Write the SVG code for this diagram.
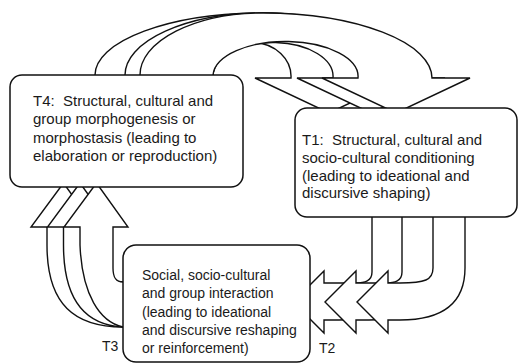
<svg xmlns="http://www.w3.org/2000/svg" width="520" height="364" viewBox="0 0 520 364">
<style>
.ar{fill:#fff;stroke:#111;stroke-width:1.4;stroke-linejoin:miter}
.bx{fill:#fff;stroke:#111;stroke-width:1.5}
.t{font-family:"Liberation Sans",Arial,sans-serif;fill:#1a1a1a}
.big{font-size:15px}
.sm{font-size:14px}
</style>
<rect width="520" height="364" fill="#fff"/>
<g id="connectors">
  <path class="ar" d="M95,85 L95,75 A168,62 0 0 1 263,13 A102,65 0 0 1 365,78 L403,78 L329,113 L255,78 L291,78 A39,34 0 0 0 213,75 L213,85 Z"/>
  <path class="ar" d="M125,85 L125,75 A138,62 0 0 1 263,13 A144,65 0 0 1 407,78 L445,78 L371,113 L297,78 L333,78 A60,34 0 0 0 213,75 L213,85 Z"/>
  <path class="ar" d="M140,85 L140,75 A123,62 0 0 1 263,13 A170,65 0 0 1 432,78 L470,78 L396,113 L322,78 L358,78 A72.5,35 0 0 0 213,75 L213,85 Z"/>
  <path class="ar" d="M372,205 L372,272 C372,281 365,283 355,283 L324,283 L324,271 L293,302 L324,333 L324,320 L339,320 C379,320 404,305 404,268 L404,205 Z"/>
  <path class="ar" d="M402,205 L402,272 C402,281 395,283 385,283 L356,283 L356,271 L325,302 L356,333 L356,320 L369,320 C409,320 434,305 434,268 L434,205 Z"/>
  <path class="ar" d="M433,205 L433,268 C433,280 425,283 400,283 L388,283 L388,271 L357,302 L388,333 L388,320 L400,320 C440,320 465,305 465,268 L465,205 Z"/>
  <path class="ar" d="M135,327 L123,327 C75,327 47,305 47,245 L47,227 L31,227 L63.5,183 L95,227 L80,227 L80,268 C80,278 110,282 123,282 L135,282 Z"/>
  <path class="ar" d="M135,327 L123,327 C85,325 63.5,300 63.5,245 L63.5,227 L47.5,227 L80,183 L111.5,227 L96.5,227 L96.5,268 C96.5,278 112,282 123,282 L135,282 Z"/>
  <path class="ar" d="M135,327 L123,327 C100,322 82,295 80,245 L80,227 L64,227 L96.5,183 L128,227 L113,227 L113,268 C113,278 116,282 123,282 L135,282 Z"/>
</g>
<g id="node-t4">
  <rect class="bx" x="10" y="75" width="233" height="112" rx="12"/>
  <text class="t big" x="33" y="106" xml:space="preserve">T4:  Structural, cultural and</text>
  <text class="t big" x="33" y="124">group morphogenesis or</text>
  <text class="t big" x="33" y="143">morphostasis (leading to</text>
  <text class="t big" x="33" y="161">elaboration or reproduction)</text>
</g>
<g id="node-t1">
  <rect class="bx" x="295" y="108" width="222" height="109" rx="12"/>
  <text class="t big" x="302" y="145" xml:space="preserve">T1:  Structural, cultural and</text>
  <text class="t big" x="302" y="163">socio-cultural conditioning</text>
  <text class="t big" x="302" y="181">(leading to ideational and</text>
  <text class="t big" x="302" y="198">discursive shaping)</text>
</g>
<g id="node-social">
  <rect class="bx" x="123" y="245" width="187" height="117" rx="13"/>
  <text class="t sm" x="142" y="280">Social, socio-cultural</text>
  <text class="t sm" x="142" y="298">and group interaction</text>
  <text class="t sm" x="142" y="317">(leading to ideational</text>
  <text class="t sm" x="142" y="335">and discursive reshaping</text>
  <text class="t sm" x="142" y="353">or reinforcement)</text>
</g>
<g id="labels">
  <text class="t sm" x="102" y="351">T3</text>
  <text class="t sm" x="319" y="353">T2</text>
</g>
</svg>
